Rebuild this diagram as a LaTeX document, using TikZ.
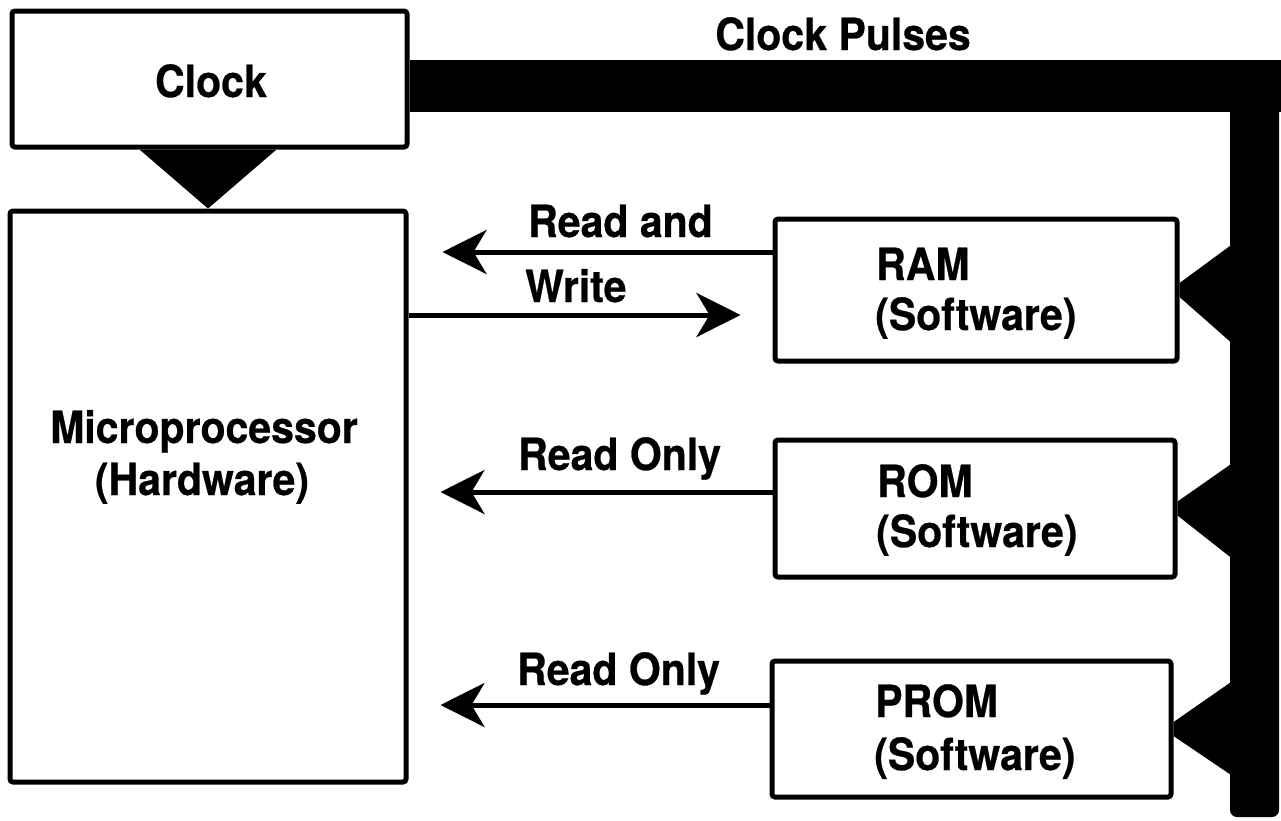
\documentclass[tikz,border=0pt]{standalone}
\usepackage{fontspec}
\usepackage{graphicx}
\setmainfont{TeX Gyre Heros}[BoldFeatures={FakeBold=0.6}]
\usetikzlibrary{arrows.meta}
\newcommand\tallt[1]{\scalebox{1}[1.08]{#1}}
\begin{document}
\begin{tikzpicture}[x=1pt,y=-1pt,
  box/.style={draw, line width=5pt, rounded corners=3pt, inner sep=0pt},
  lbl/.style={font=\fontsize{41}{50}\selectfont\bfseries, inner sep=0pt},
  arr/.style={line width=5pt, -{Stealth[length=44pt,width=44pt,inset=13pt]}},
  bus/.style={fill=black}]
\useasboundingbox (0,0) rectangle (1281,820);
% boxes
\node[box, minimum width=395pt, minimum height=136pt] (clock) at (209.5,79) {};
\node[box, minimum width=396pt, minimum height=571pt] (micro) at (208,496.5) {};
\node[box, minimum width=402pt, minimum height=142pt] (ram) at (976,290) {};
\node[box, minimum width=400pt, minimum height=137pt] (rom) at (975,508.5) {};
\node[box, minimum width=399pt, minimum height=136pt] (prom) at (971.5,729) {};
% box texts
\node[lbl, anchor=base] (clocktext) at (211,97) {\tallt{Clock}};
\node[lbl, anchor=base] (microA) at (204,443) {\tallt{Microprocessor}};
\node[lbl, anchor=base] (microB) at (202,495) {\tallt{(Hardware)}};
\node[lbl, anchor=base west] (ramA) at (876,280) {\tallt{RAM}};
\node[lbl, anchor=base west] (ramB) at (875,330) {\tallt{(Software)}};
\node[lbl, anchor=base west] (romA) at (877,497) {\tallt{ROM}};
\node[lbl, anchor=base west] (romB) at (876,547) {\tallt{(Software)}};
\node[lbl, anchor=base west] (promA) at (875,717) {\tallt{PROM}};
\node[lbl, anchor=base west] (promB) at (874,770) {\tallt{(Software)}};
% clock pulse bus
\fill[bus, rounded corners=7pt] (1230,60) -- (1279,60) -- (1279,817) -- (1230,817) -- cycle;
\fill[bus] (clock.east |- 0,60) rectangle (1281,112);
\node[lbl, anchor=base] (pulses) at (843,50) {\tallt{Clock Pulses}};
% clock to microprocessor
\fill[bus] ([xshift=-70pt]clock.south) -- ([xshift=67pt]clock.south) -- (micro.north) -- cycle;
% taps from bus
\fill[bus] ([yshift=7pt]ram.east) -- (1234,243) -- (1234,345) -- ([yshift=-7pt]ram.east) -- cycle;
\fill[bus] ([yshift=7pt]rom.east) -- (1234,462) -- (1234,560) -- ([yshift=-7pt]rom.east) -- cycle;
\fill[bus] ([yshift=7pt]prom.east) -- (1234,680) -- (1234,777) -- ([yshift=-7pt]prom.east) -- cycle;
% read/write arrows
\draw[arr, shorten >=34pt] (ram.west |- 0,252) -- (micro.east |- 0,252);
\draw[arr, shorten >=32pt] (micro.east |- 0,315) -- (ram.west |- 0,315);
\draw[arr, shorten >=32pt] (rom.west |- 0,492) -- (micro.east |- 0,492);
\draw[arr, shorten >=32pt] (prom.west |- 0,705) -- (micro.east |- 0,705);
% labels
\node[lbl, anchor=base west] (lrw1) at (528,237) {\tallt{Read and}};
\node[lbl, anchor=base west] (lrw2) at (525,302) {\tallt{Write}};
\node[lbl, anchor=base west] (lro1) at (518,470) {\tallt{Read Only}};
\node[lbl, anchor=base west] (lro2) at (517,685) {\tallt{Read Only}};
\end{tikzpicture}
\end{document}
